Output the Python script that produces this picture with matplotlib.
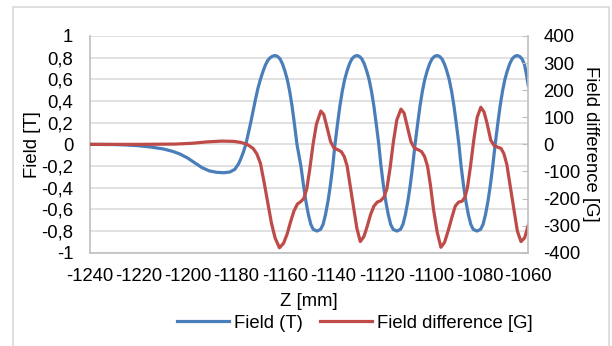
import matplotlib
matplotlib.use("Agg")
import matplotlib.pyplot as plt
from matplotlib.patches import Rectangle
from matplotlib.lines import Line2D

plt.rcParams['font.family'] = ['Liberation Sans', 'DejaVu Sans']

# Field (T) vs Z [mm]
z_field = [-1240, -1230, -1225, -1220, -1215, -1210, -1206, -1203, -1200, -1197,
           -1194, -1191, -1188, -1185, -1182.5, -1180.5, -1179, -1178, -1177, -1176,
           -1175, -1174, -1173, -1172, -1171, -1170, -1169, -1168, -1167, -1166,
           -1165, -1164, -1163, -1162, -1161, -1160, -1159, -1158, -1157, -1156,
           -1155, -1153.4, -1152.3, -1151.3, -1150.3, -1149.3, -1148.3, -1146.8, -1145.3, -1144.3,
           -1143.3, -1142.3, -1141.3, -1140.3, -1139.4, -1138.4, -1137.4, -1136.4, -1135.4, -1134.4,
           -1133.4, -1132.4, -1131.4, -1130.4, -1129.4, -1128.4, -1127.4, -1126.4, -1125.4, -1124.4,
           -1123.4, -1122.4, -1121.4, -1120.5, -1119.5, -1118.5, -1117.5, -1116.5, -1115.5, -1114.0,
           -1112.5, -1111.5, -1110.5, -1109.5, -1108.5, -1107.5, -1106.5, -1105.5, -1104.5, -1103.5,
           -1102.5, -1101.5, -1100.5, -1099.5, -1098.5, -1097.5, -1096.5, -1095.5, -1094.5, -1093.5,
           -1092.5, -1091.5, -1090.5, -1089.5, -1088.5, -1087.6, -1086.6, -1085.6, -1084.6, -1083.6,
           -1082.6, -1081.1, -1079.6, -1078.6, -1077.6, -1076.6, -1075.6, -1074.6, -1073.6, -1072.6,
           -1071.6, -1070.6, -1069.6, -1068.6, -1067.6, -1066.6, -1065.6, -1064.6, -1063.6, -1062.6,
           -1061.6, -1060.8, -1060]
field = [0.0, -0.002, -0.006, -0.013, -0.025, -0.042, -0.065, -0.09, -0.125, -0.17,
         -0.215, -0.245, -0.258, -0.262, -0.255, -0.23, -0.18, -0.13, -0.07, 0.0,
         0.1, 0.2, 0.31, 0.42, 0.52, 0.6, 0.67, 0.73, 0.775, 0.80,
         0.814, 0.82, 0.812, 0.79, 0.745, 0.68, 0.60, 0.49, 0.35, 0.18,
         0.0, -0.2, -0.38, -0.53, -0.65, -0.74, -0.785, -0.80, -0.785, -0.74,
         -0.65, -0.53, -0.38, -0.2, 0.0, 0.18, 0.35, 0.49, 0.60, 0.68,
         0.745, 0.79, 0.812, 0.82, 0.812, 0.79, 0.745, 0.68, 0.60, 0.49,
         0.35, 0.18, 0.0, -0.2, -0.38, -0.53, -0.65, -0.74, -0.785, -0.80,
         -0.785, -0.74, -0.65, -0.53, -0.38, -0.2, 0.0, 0.18, 0.35, 0.49,
         0.60, 0.68, 0.745, 0.79, 0.812, 0.82, 0.812, 0.79, 0.745, 0.68,
         0.60, 0.49, 0.35, 0.18, 0.0, -0.2, -0.38, -0.53, -0.65, -0.74,
         -0.785, -0.80, -0.785, -0.74, -0.65, -0.53, -0.38, -0.2, 0.0, 0.18,
         0.35, 0.49, 0.60, 0.68, 0.745, 0.79, 0.812, 0.82, 0.812, 0.79,
         0.74, 0.65, 0.54]

# Field difference [G] vs Z [mm]
z_diff = [-1240, -1220, -1205, -1198, -1192, -1186, -1181, -1178, -1175.5, -1173,
          -1171.5, -1170, -1168.5, -1167, -1165.5, -1164, -1162.2, -1160.5, -1159, -1157.6,
          -1156.2, -1154.8, -1153.4, -1152.2, -1151, -1149.8, -1148.4, -1147, -1145.2, -1144,
          -1142.8, -1141.2, -1139.8, -1138.2, -1136.8, -1135.6, -1134.4, -1133.2, -1131.8, -1130.4,
          -1129.0, -1127.5, -1126.2, -1124.8, -1123.4, -1122, -1120.6, -1119.3, -1118.1, -1116.8,
          -1115.4, -1114, -1112.3, -1111, -1109.8, -1108.2, -1106.8, -1105.2, -1103.8, -1102.6,
          -1101.4, -1100.2, -1098.9, -1097.4, -1095.9, -1094.4, -1092.8, -1091.4, -1090, -1088.6,
          -1087.2, -1086, -1085, -1083.8, -1082.4, -1081, -1079.5, -1078.2, -1077, -1075.4,
          -1074, -1072.4, -1071.2, -1070, -1068.8, -1067.5, -1066, -1064.5, -1063, -1061.5,
          -1060]
diff = [0, 0, 1, 4, 9, 12, 11, 7, 0, -15,
        -35, -70, -140, -215, -290, -345, -382, -365, -330, -285,
        -245, -220, -211, -200, -165, -95, 0, 75, 123, 110,
        68, 10, -14, -20, -27, -45, -80, -150, -230, -310,
        -359, -340, -304, -260, -228, -213, -208, -195, -165, -90,
        10, 90, 130, 115, 70, 10, -14, -20, -27, -45,
        -80, -150, -242, -325, -380, -362, -316, -270, -228, -213,
        -210, -195, -160, -85, 15, 100, 137, 120, 80, 15,
        -5, -11, -15, -35, -75, -150, -235, -320, -359, -345,
        -298]

x_ticks = list(range(-1240, -1059, 20))
left_ticks = [1, 0.8, 0.6, 0.4, 0.2, 0, -0.2, -0.4, -0.6, -0.8, -1]
left_labels = ['1', '0,8', '0,6', '0,4', '0,2', '0', '-0,2', '-0,4', '-0,6', '-0,8', '-1']
right_ticks = [400, 300, 200, 100, 0, -100, -200, -300, -400]

blue = '#4a7ebb'
red = '#be4b48'
grey = '#bfbfbf'
fs = 13.3

fig = plt.figure(figsize=(6.12, 3.46), dpi=100)
fig.patches.append(Rectangle((13 / 612, -0.05), 596 / 612, 1 - 7 / 346 + 0.05,
                             transform=fig.transFigure, fill=False,
                             edgecolor='#d9d9d9', linewidth=1.2))

ax = fig.add_axes([90 / 612, 1 - 252.7 / 346, 438.3 / 612, 216.7 / 346])
ax2 = ax.twinx()

ax.plot(z_field, field, color=blue, linewidth=2.3, solid_joinstyle='round')
ax2.plot(z_diff, diff, color=red, linewidth=2.3, solid_joinstyle='round')

ax.set_xlim(-1240, -1060)
ax.set_ylim(-1, 1)
ax2.set_ylim(-400, 400)

ax.set_xticks(x_ticks)
ax.set_xticklabels([str(t) for t in x_ticks])
ax.set_yticks(left_ticks)
ax.set_yticklabels(left_labels)
ax2.set_yticks(right_ticks)
ax2.set_yticklabels([str(t) for t in right_ticks])

ax.grid(axis='y', color='#d9d9d9', linewidth=1.1)
ax.set_axisbelow(True)

for a in (ax, ax2):
    for s in a.spines.values():
        s.set_visible(False)
ax.spines['left'].set_visible(True)
ax.spines['left'].set_color(grey)
ax.spines['left'].set_linewidth(1.2)
ax.spines['bottom'].set_visible(True)
ax.spines['bottom'].set_color(grey)
ax.spines['bottom'].set_linewidth(1.2)
ax2.spines['right'].set_visible(True)
ax2.spines['right'].set_color(grey)
ax2.spines['right'].set_linewidth(1.2)

ax.tick_params(axis='y', length=0, labelsize=fs, pad=12)
ax.tick_params(axis='x', length=0, labelsize=fs, pad=11)
ax2.tick_params(axis='y', direction='in', length=4, color=grey, labelsize=fs, pad=11)

ax.set_ylabel('Field [T]', fontsize=fs, labelpad=0)
ax2.set_ylabel('Field difference [G]', fontsize=fs, rotation=270, labelpad=13)
ax.set_xlabel('Z [mm]', fontsize=fs, labelpad=6)

handles = [Line2D([], [], color=blue, linewidth=2.3),
           Line2D([], [], color=red, linewidth=2.3)]
fig.legend(handles, ['Field (T)', 'Field difference [G]'], loc='center',
           bbox_to_anchor=(355 / 612, 1 - 323 / 346), ncol=2, frameon=False,
           fontsize=fs, handlelength=2.8, handletextpad=0.3, columnspacing=0.9,
           borderpad=0)

fig.savefig('out.png', dpi=100)
